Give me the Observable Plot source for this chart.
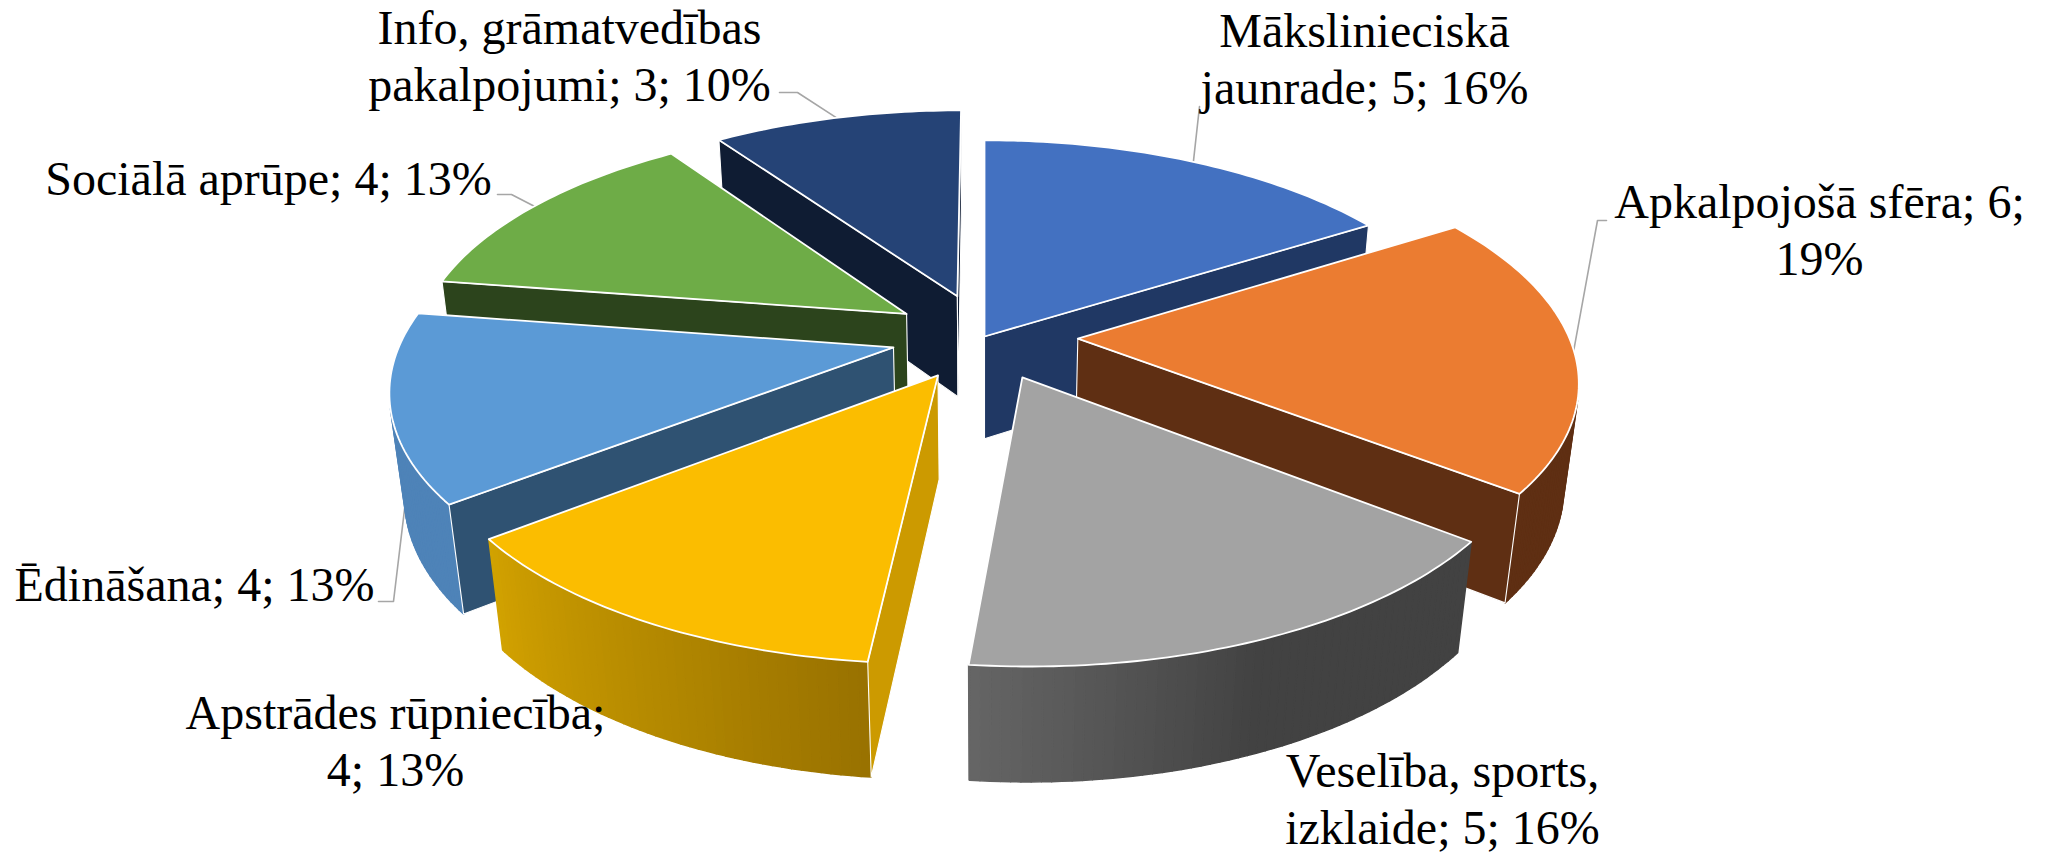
<!DOCTYPE html>
<html><head><meta charset="utf-8">
<style>html,body{margin:0;padding:0;background:#fff}svg{display:block}</style>
<script src="https://cdn.jsdelivr.net/npm/d3@7"></script>
<script src="https://cdn.jsdelivr.net/npm/@observablehq/plot@0.6"></script>
</head><body><div id="chart"></div>
<script>
// --- chart values
const categories = ["Mākslinieciskā jaunrade","Apkalpojošā sfēra","Veselība, sports, izklaide","Apstrādes rūpniecība","Ēdināšana","Sociālā aprūpe","Info, grāmatvedības pakalpojumi"];
const values = [5,6,5,4,4,4,3];
const labels = ["Mākslinieciskā\njaunrade; 5; 16%","Apkalpojošā sfēra; 6;\n19%","Veselība, sports,\nizklaide; 5; 16%","Apstrādes rūpniecība;\n4; 13%","Ēdināšana; 4; 13%","Sociālā aprūpe; 4; 13%","Info, grāmatvedības\npakalpojumi; 3; 10%"];

// --- styles
const topColors  = ["#4371C1","#EB7C31","#A3A3A3","#FBBD00","#5B9AD6","#6EAC47","#254376"];
const faceColors = ["#203864","#5F2F13","#404040","#CC9A00","#2F5272","#2C441C","#0F1C33"];
const rimColors  = [["#203864","#203864"],["#5F2F13","#5F2F13"],["#424242","#666666"],["#997200","#D2A200"],["#4E83B8","#4E83B8"],["#2C441C","#2C441C"],["#0F1C33","#0F1C33"]];
const rimRampStart = [0,0,.5,0,0,0,0];
const explode = [0,.19,.19,.19,.19,.19,.19];
const paintOrder = [6,0,5,1,4,2,3];

// --- view of the 3D pie
const W = 2052, H = 853, cx = 984, cy = 336, unit = 491;
const persp = .161, flat = .464, depth = .2133, farther = .025;
const toX = px => (px - cx) / unit, toY = py => (cy - py) / unit;

const total = d3.sum(values);
const rad = d => d * Math.PI / 180;
let acc = 0;
const slices = values.map((v, i) => {
  const a0 = acc / total * 360; acc += v; const a1 = acc / total * 360;
  const m = rad((a0 + a1) / 2);
  return {i, a0, a1, ox: explode[i] * Math.sin(m), oy: explode[i] * Math.cos(m)};
});
function project(s, r, deg, bottom) {
  const X = s.ox + r * Math.sin(rad(deg)), Y = s.oy + r * Math.cos(rad(deg));
  const den = 1 + persp * Y + (bottom ? farther : 0);
  return {x: X / den, y: (flat * Y - (bottom ? depth : 0)) / den};
}
const area = p => d3.sum(p, (a, i) => { const b = p[(i + 1) % p.length]; return a.x * b.y - b.x * a.y; });

let fid = 0;
const addFace = (rows, pts, fill, stroke, sw) => { fid++; pts.forEach(p => rows.push({x: p.x, y: p.y, face: fid, fill, stroke, sw})); };
const marks = [];

// leader lines lie beneath the pie: label elbow -> point on the slice's rim
const leaderLayout = [
  {i:0, pts:[[1199,106],[1199,106]], deg:null},
  {i:1, pts:[[1606,220],[1597,220]], deg:null},
  {i:4, pts:[[378,601],[393,601]], deg:243},
  {i:5, pts:[[497,194],[511,194]], deg:null},
  {i:6, pts:[[779,92],[797,92]], deg:null}
];
const leaderRows = [];
leaderLayout.forEach(l => {
  const s = slices[l.i];
  l.pts.forEach(p => leaderRows.push({x: toX(p[0]), y: toY(p[1]), k: l.i}));
  const e = project(s, 1, l.deg ?? (s.a0 + s.a1) / 2, false);
  leaderRows.push({x: e.x, y: e.y, k: l.i});
});
marks.push(Plot.line(leaderRows, {x:"x", y:"y", z:"k", stroke:"#a6a6a6", strokeWidth:1.6}));

paintOrder.forEach(i => {
  const s = slices[i], rows = [];
  const degs = d3.range(s.a0, s.a1, 1).concat([s.a1]);
  const ramp = d3.scaleLinear([s.a0 + rimRampStart[i] * (s.a1 - s.a0), s.a1], [0,1]).clamp(true);
  const rimColor = d3.interpolateRgb(rimColors[i][0], rimColors[i][1]);
  // rim
  for (let k = 0; k < degs.length - 1; k++) {
    const quad = [project(s,1,degs[k],false), project(s,1,degs[k+1],false), project(s,1,degs[k+1],true), project(s,1,degs[k],true)];
    if (area(quad) > 0) {
      const c = rimColor(ramp(degs[k]));
      addFace(rows, quad, c, c, 1.5);
    }
  }
  // radial faces
  const faceOf = d => [project(s,0,d,false), project(s,1,d,false), project(s,1,d,true), project(s,0,d,true)];
  const fs = faceOf(s.a0), fe = faceOf(s.a1);
  if (area(fs) > 0) addFace(rows, fs, faceColors[i], "#ffffff", 1.1);
  if (area(fe) < 0) addFace(rows, fe, faceColors[i], "#ffffff", 1.1);
  // top
  addFace(rows, [project(s,0,s.a0,false), ...degs.map(d => project(s,1,d,false))], topColors[i], "#ffffff", 1.8);
  marks.push(Plot.line(rows, {x:"x", y:"y", z:"face", fill:"fill", stroke:"stroke", strokeWidth:"sw", curve:"linear-closed", strokeLinejoin:"round"}));
});

// label placement
const labelX = [1364,1819,1442,395,194,268,569];
const labelY = [57,228,797,739,583,177,54];
marks.push(Plot.text(labels, {
  x: (d,i) => toX(labelX[i]), y: (d,i) => toY(labelY[i]), text: d => d,
  fontFamily: "'Liberation Serif','Times New Roman',serif", fontSize: 48, lineHeight: 1.17,
  fill: "#000", lineAnchor: "middle", textAnchor: "middle"
}));

const chart = Plot.plot({
  width: W, height: H, margin: 0,
  x: {axis: null, domain: [toX(0), toX(W)]},
  y: {axis: null, domain: [toY(H), toY(0)]},
  color: {type: "identity"},
  style: {background: "#fff"},
  marks
});
document.getElementById("chart").append(chart);
</script></body></html>
